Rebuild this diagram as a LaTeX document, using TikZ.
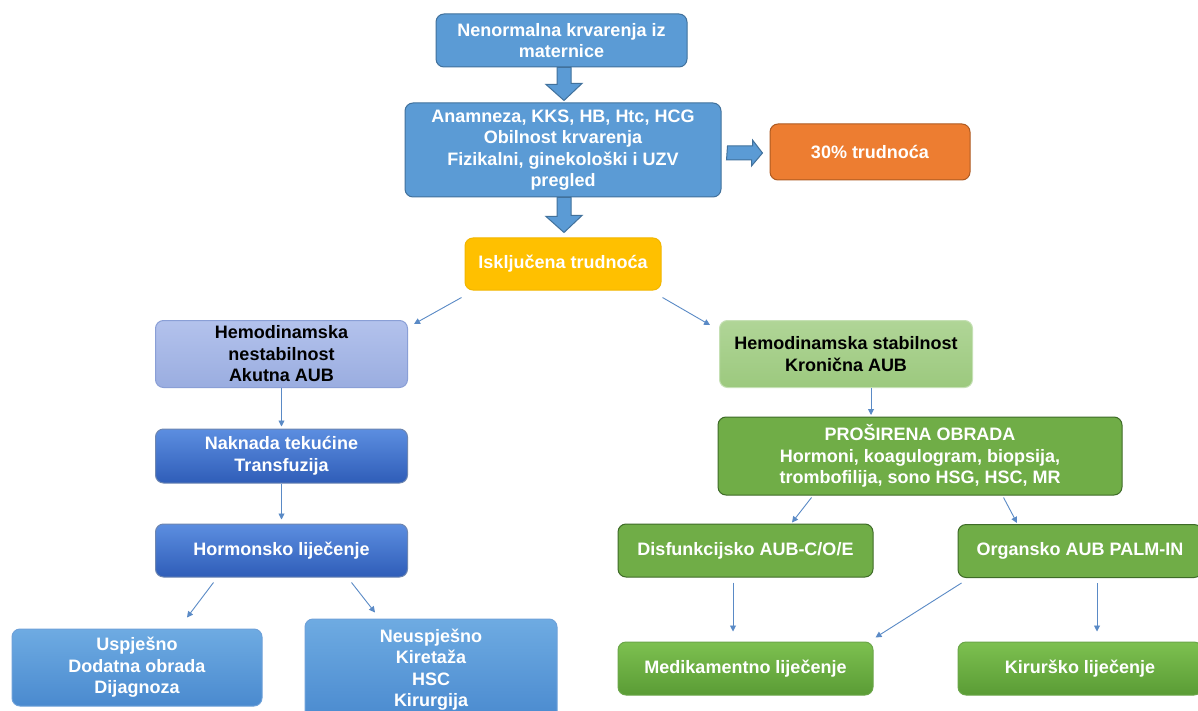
\documentclass[tikz,border=0pt]{standalone}
\usepackage{fontspec}
\setmainfont{Liberation Sans}
\usetikzlibrary{calc,arrows.meta}
\definecolor{bfill}{HTML}{5B9BD5}
\definecolor{bdraw}{HTML}{41719C}
\definecolor{ofill}{HTML}{ED7D31}
\definecolor{odraw}{HTML}{AE5A21}
\definecolor{gold}{HTML}{FFC000}
\definecolor{lavT}{HTML}{B3C2EC}
\definecolor{lavB}{HTML}{9AADE0}
\definecolor{lavD}{HTML}{8A9FD6}
\definecolor{dbT}{HTML}{5C8EE0}
\definecolor{dbB}{HTML}{2F5DB8}
\definecolor{dbD}{HTML}{2F528F}
\definecolor{lbT}{HTML}{6EABE2}
\definecolor{lbB}{HTML}{4A8ACF}
\definecolor{lgT}{HTML}{B0D597}
\definecolor{lgB}{HTML}{9CC97E}
\definecolor{lgD}{HTML}{C5E0B4}
\definecolor{gfill}{HTML}{70AD47}
\definecolor{gdraw}{HTML}{3E6B27}
\definecolor{ggT}{HTML}{7DC050}
\definecolor{ggB}{HTML}{5A9C35}
\definecolor{conn}{HTML}{5A8AC6}
\tikzset{
  box/.style={rectangle, rounded corners=8pt, align=center, inner sep=2pt,
    font=\bfseries\fontsize{18}{21.5}\selectfont, text=white, line width=1pt},
  bluebox/.style={box, fill=bfill, draw=bdraw},
  orangebox/.style={box, fill=ofill, draw=odraw},
  goldbox/.style={box, fill=gold, draw=gold!95!black},
  lavbox/.style={box, top color=lavT, bottom color=lavB, draw=lavD, text=black},
  darkbluebox/.style={box, top color=dbT, bottom color=dbB, draw=dbD!70},
  lightbluebox/.style={box, top color=lbT, bottom color=lbB, draw=lbB!80!white},
  lightgreenbox/.style={box, top color=lgT, bottom color=lgB, draw=lgD, text=black},
  greenbox/.style={box, fill=gfill, draw=gdraw},
  gradgreenbox/.style={box, top color=ggT, bottom color=ggB, draw=ggB!90!white},
  link/.style={draw=conn, line width=0.9pt, -{Triangle[length=6pt,width=6pt]}},
  bigarr/.style={fill=bfill, draw=bdraw, line width=1pt, line join=miter}
}
\begin{document}
\begin{tikzpicture}[x=1pt,y=-1pt]
\clip (0,0) rectangle (1198,711);
\useasboundingbox (0,0) rectangle (1198,711);
\fill[white] (0,0) rectangle (1198,711);

\node[bluebox, minimum width=251pt, minimum height=53pt] (n1) at (561.5,40.5) {Nenormalna krvarenja iz\\maternice};
\node[bluebox, minimum width=316pt, minimum height=94pt] (n2) at (563,150) {Anamneza, KKS, HB, Htc, HCG\\Obilnost krvarenja\\Fizikalni, ginekološki i UZV\\pregled};
\node[orangebox, minimum width=200pt, minimum height=56pt] (n3) at (870,152) {30\% trudnoća};
\node[goldbox, minimum width=196pt, minimum height=52pt] (n4) at (563,264) {Isključena trudnoća};

\node[lavbox, minimum width=252pt, minimum height=67pt] (n5) at (281.5,354) {Hemodinamska\\nestabilnost\\Akutna AUB};
\node[darkbluebox, minimum width=252pt, minimum height=54pt] (n6) at (281.5,456) {Naknada tekućine\\Transfuzija};
\node[darkbluebox, minimum width=252pt, minimum height=53pt] (n7) at (281.5,550.5) {Hormonsko liječenje};
\node[lightbluebox, minimum width=250pt, minimum height=77pt] (n8) at (137,667.5) {Uspješno\\Dodatna obrada\\Dijagnoza};
\node[lightbluebox, minimum width=252pt, minimum height=101pt] (n9) at (431,669.5) {Neuspješno\\Kiretaža\\HSC\\Kirurgija};

\node[lightgreenbox, minimum width=253pt, minimum height=67pt] (n10) at (846,354) {Hemodinamska stabilnost\\Kronična AUB};
\node[greenbox, minimum width=404pt, minimum height=78pt] (n11) at (920,456) {PROŠIRENA OBRADA\\Hormoni, koagulogram, biopsija,\\trombofilija, sono HSG, HSC, MR};
\node[greenbox, minimum width=255pt, minimum height=53pt] (n12) at (745.5,550.5) {Disfunkcijsko AUB-C/O/E};
\node[greenbox, minimum width=244pt, minimum height=53pt] (n13) at (1080,551) {Organsko AUB PALM-IN};
\node[gradgreenbox, minimum width=255pt, minimum height=53pt] (n14) at (745.5,668.5) {Medikamentno liječenje};
\node[gradgreenbox, minimum width=244pt, minimum height=53pt] (n15) at (1080,668.5) {Kirurško liječenje};

% big block arrows
\draw[bigarr] ($(n1.south)+(-4.5,0)$) -- ++(0,17) -- ++(-11,0) -- ($(n2.north)+(1,-2)$) -- ++(18,-17) -- ++(-11,0) -- ($(n1.south)+(9.5,0)$) -- cycle;
\draw[bigarr] ($(n2.south)+(-6,0)$) -- ++(0,19) -- ++(-11,0) -- ($(n4.north)+(1,-5)$) -- ++(18,-17) -- ++(-11,0) -- ($(n2.south)+(8,0)$) -- cycle;
\draw[bigarr] ($(n2.east)+(6,-4)$) -- ++(25,0) -- ++(0,-6) -- ($(n3.west)+(-7,1)$) -- ++(-11,13) -- ++(0,-6) -- ++(-25,0) -- cycle;

% thin connectors
\draw[link] ($(n4.south west)+(-3,7)$) -- ($(n5.north east)+(6,4)$);
\draw[link] ($(n4.south east)+(1,7)$) -- ($(n10.north west)+(-9,5)$);
\draw[link] (n5.south) -- ($(n6.north)+(0,-2)$);
\draw[link] (n6.south) -- ($(n7.north)+(0,-4)$);
\draw[link] ($(n7.south)+(-68,5)$) -- ($(n8.north)+(50,-11)$);
\draw[link] ($(n7.south)+(70,5)$) -- ($(n9.north)+(-56,-6)$);
\draw[link] ($(n10.south)+(25,0)$) -- ($(n10.south)+(25,27)$);
\draw[link] ($(n11.south west)+(94,2)$) -- ($(n12.north)+(46.5,-1)$);
\draw[link] ($(n11.south west)+(286,2)$) -- ($(n13.north)+(-63,-1)$);
\draw[link] ($(n12.south)+(-12.5,5)$) -- ($(n14.north)+(-12.5,-10)$);
\draw[link] ($(n13.south west)+(4,5)$) -- ($(n14.north east)+(2,-4)$);
\draw[link] ($(n13.south)+(17,5)$) -- ($(n15.north)+(17,-10)$);
\end{tikzpicture}
\end{document}
